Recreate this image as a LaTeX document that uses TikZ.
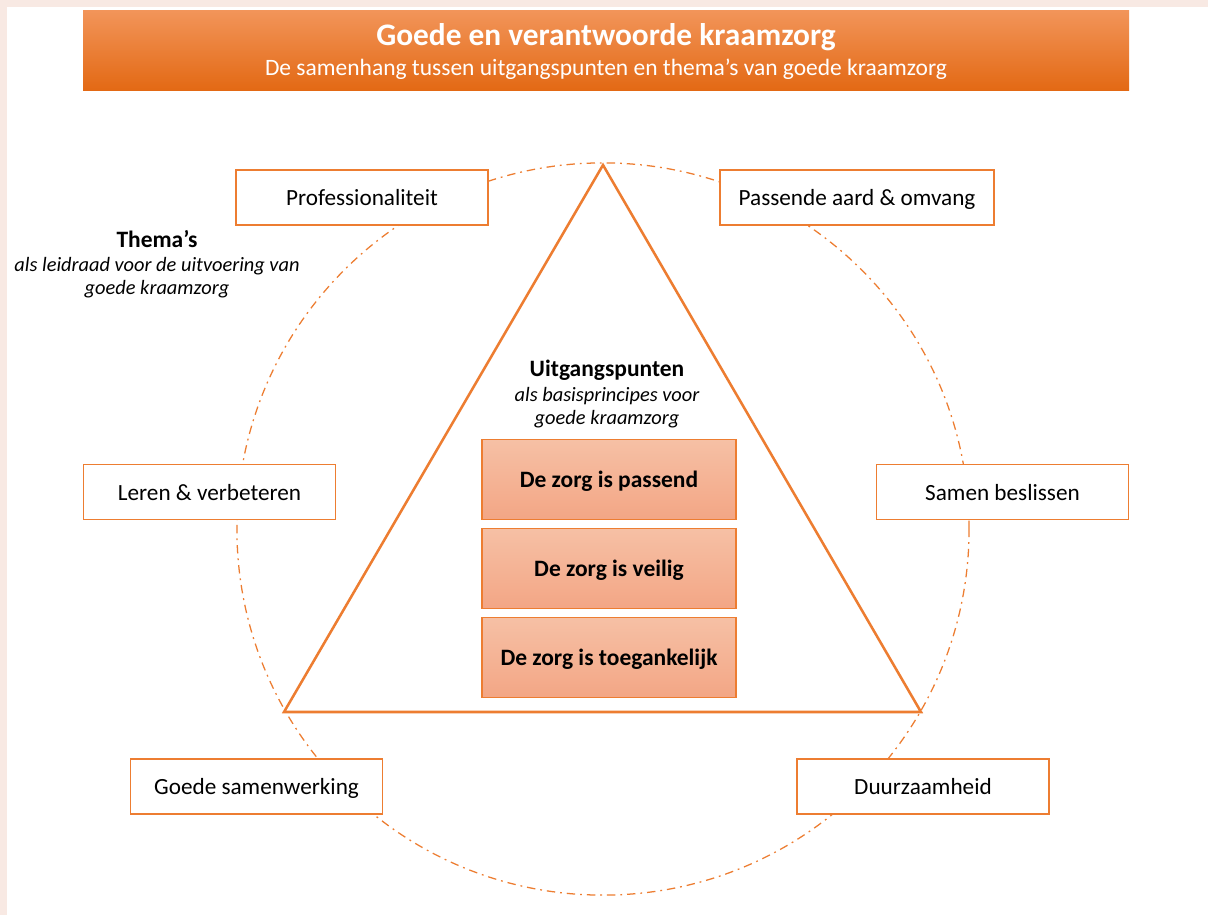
\documentclass[tikz,border=0pt]{standalone}
\usepackage{fontspec}
\setmainfont{Carlito}
\definecolor{oranje}{HTML}{ED7D31}
\definecolor{kopboven}{HTML}{F2955A}
\definecolor{kopmidden}{HTML}{F07D2C}
\definecolor{kproduction}{HTML}{E36914}
\definecolor{zalmlicht}{HTML}{F6C0A5}
\definecolor{zalm}{HTML}{F3A685}
\definecolor{achter}{HTML}{F8E9E3}
\tikzset{
  thema/.style={draw=oranje, line width=1.1pt, fill=white, minimum width=6.3cm, minimum height=1.375cm, text height=15pt, text depth=3pt, font=\fontsize{16.5}{19}\selectfont},
  punt/.style={draw=oranje, line width=0.8pt, top color=zalmlicht, bottom color=zalm, minimum width=6.35cm, minimum height=2.0cm, text height=15pt, text depth=3pt, font=\bfseries\fontsize{16.7}{19}\selectfont},
  stippel/.style={draw=oranje, line width=0.9pt, dash pattern=on 6pt off 3.5pt on 1.3pt off 3.5pt}
}
\begin{document}
\begin{tikzpicture}[x=0.025cm, y=-0.025cm]
\useasboundingbox (0,0) rectangle (1208,915);
% Hintergrund
\fill [achter] (0,0) rectangle (1208,915);
\fill [white] (7,7) rectangle (1208,915);

% Kopf
\shade [top color=kopboven, middle color=kopmidden, bottom color=kproduction] (83,10) rectangle (1129,90);
\node (titel) at (606,37) {\color{white}\bfseries\fontsize{22.3}{26}\selectfont Goede en verantwoorde kraamzorg};
\node (untertitel) at (606,69) {\color{white}\fontsize{16.7}{19}\selectfont De samenhang tussen uitgangspunten en thema’s van goede kraamzorg};

% Kreis und Dreieck
\draw [stippel] (603,529) circle (9.15cm);
\coordinate (spitze) at (603,165);
\coordinate (rechts) at (921,712);
\coordinate (links) at (284,712);
\draw [oranje, line width=1.8pt, line join=miter] (spitze) -- (rechts) -- (links) -- cycle;

% Themen
\node [thema] (prof) at (362,197.5) {Professionaliteit};
\node [thema, minimum width=6.85cm] (aard) at (857,197.5) {Passende aard \& omvang};
\node [thema] (leren) at (209.5,492) {Leren \& verbeteren};
\node [thema] (samen) at (1002.5,492) {Samen beslissen};
\node [thema] (goede) at (256.5,786.5) {Goede samenwerking};
\node [thema] (duurz) at (923,786.5) {Duurzaamheid};

\node (themas) at (157,239) {\bfseries\fontsize{16.7}{19}\selectfont Thema’s};
\node [align=center, font=\itshape\fontsize{14.5}{16.5}\selectfont] (themasuitleg) at (157,278) {als leidraad voor de uitvoering van\\goede kraamzorg};

% Uitgangspunten
\node (uitg) at (607,370) {\bfseries\fontsize{16.7}{19}\selectfont Uitgangspunten};
\node [align=center, font=\itshape\fontsize{14.5}{16.5}\selectfont] (uitguitleg) at (607,408) {als basisprincipes voor\\goede kraamzorg};
\node [punt] (passend) at (609,479.5) {De zorg is passend};
\node [punt] (veilig) at (609,568.5) {De zorg is veilig};
\node [punt] (toeg) at (609,657.5) {De zorg is toegankelijk};
\end{tikzpicture}
\end{document}
